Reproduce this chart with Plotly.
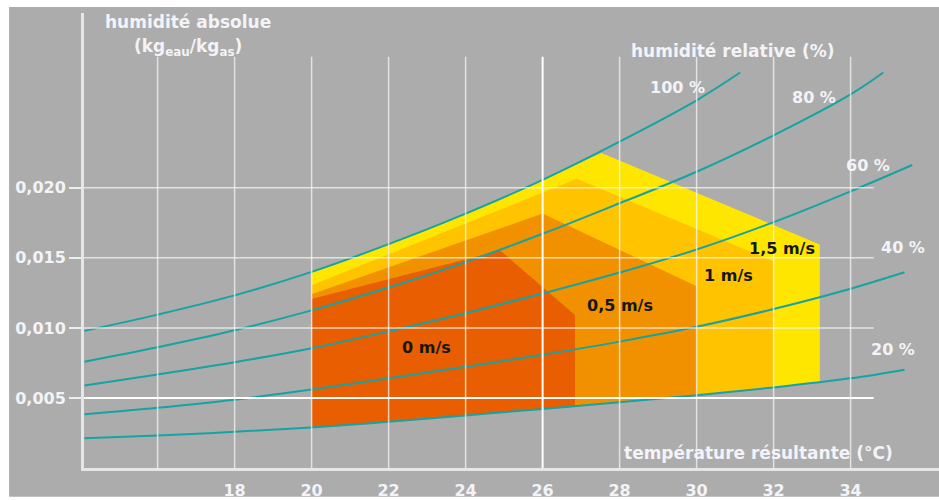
import numpy as np
import plotly.graph_objects as go

# --- relative-humidity curves: temperature (°C) vs absolute humidity (kg/kg) ---
rh100_t = [14.1, 16, 18, 20, 22, 24, 26, 28, 30, 31.13]
rh100_w = [0.00979, 0.01095, 0.01232, 0.01400, 0.01598, 0.01816, 0.02057, 0.02330, 0.02625, 0.02823]

rh80_t = [14.1, 16, 18, 20, 22, 24, 26, 28, 30, 32, 34, 34.85]
rh80_w = [0.00759, 0.00862, 0.00983, 0.01125, 0.01288, 0.01470, 0.01672, 0.01890, 0.02115, 0.02375, 0.02667, 0.02823]

rh60_t = [14.1, 16, 18, 20, 22, 24, 26, 28, 30, 32, 34, 35.6]
rh60_w = [0.00589, 0.00668, 0.00755, 0.00855, 0.00975, 0.01105, 0.01245, 0.01395, 0.01560, 0.01755, 0.01975, 0.02163]

rh40_t = [14.1, 16, 18, 20, 22, 24, 26, 28, 30, 32, 34, 35.4]
rh40_w = [0.00383, 0.00430, 0.00488, 0.00560, 0.00640, 0.00722, 0.00808, 0.00902, 0.01008, 0.01135, 0.01280, 0.01397]

rh20_t = [14.1, 16, 18, 20, 22, 24, 26, 28, 30, 32, 34, 35.4]
rh20_w = [0.00213, 0.00232, 0.00258, 0.00290, 0.00330, 0.00375, 0.00422, 0.00470, 0.00520, 0.00575, 0.00640, 0.00702]

rh_labels = ["100 %", "80 %", "60 %", "40 %", "20 %"]
rh_label_t = [29.5, 33.06, 34.45, 35.37, 35.1]
rh_label_w = [0.02716, 0.02645, 0.02156, 0.01574, 0.00844]

# --- comfort zones per air speed: upper outline (left -> peak -> right) ---
zone_names = ["1,5 m/s", "1 m/s", "0,5 m/s", "0 m/s"]
zone15_t = [20, 22, 24, 26, 27.53, 33.2]
zone15_w = [0.01400, 0.01598, 0.01816, 0.02057, 0.02248, 0.01596]
zone10_t = [20, 26.89, 32]
zone10_w = [0.01305, 0.02064, 0.01475]
zone05_t = [20, 26.0, 30]
zone05_w = [0.01241, 0.01816, 0.01298]
zone00_t = [20, 24.9, 26.84]
zone00_w = [0.01206, 0.01553, 0.01092]
zone_colors = ["#FFE600", "#FFC300", "#F29100", "#E85E00"]
zone_label_t = [32.22, 30.82, 28.0, 22.98]
zone_label_w = [0.01567, 0.01376, 0.01163, 0.00858]

# --- axes ---
grid_t = [16, 18, 20, 22, 24, 26, 28, 30, 32, 34]
xtick_t = [18, 20, 22, 24, 26, 28, 30, 32, 34]
ytick_w = [0.005, 0.010, 0.015, 0.020]
ytick_text = ["0,005", "0,010", "0,015", "0,020"]

X_RANGE = [14.088, 36.296]
Y_RANGE = [0.0, 0.03248]
GRID_TOP = 0.02936
GRID_RIGHT = 34.6

FONT = "DejaVu Sans"
LIGHT = "#F3F3F8"
TEAL = "#17A3A3"
GRAY = "#ACACAC"

fig = go.Figure()


def zone_polygon(top_t, top_w):
    """Close a zone outline along the 20 % curve back to 20 °C."""
    bottom_t = [t for t in rh20_t if top_t[0] < t < top_t[-1]]
    bottom_t = [top_t[-1]] + bottom_t[::-1] + [top_t[0]]
    bottom_w = list(np.interp(bottom_t, rh20_t, rh20_w))
    return list(top_t) + bottom_t, list(top_w) + bottom_w


for (tt, ww), color in zip(
    [(zone15_t, zone15_w), (zone10_t, zone10_w), (zone05_t, zone05_w), (zone00_t, zone00_w)],
    zone_colors,
):
    px, py = zone_polygon(tt, ww)
    fig.add_trace(go.Scatter(
        x=px, y=py, mode="lines", fill="toself", fillcolor=color,
        line=dict(width=0, color=color), hoverinfo="skip", showlegend=False,
    ))

for tt, ww in [(rh100_t, rh100_w), (rh80_t, rh80_w), (rh60_t, rh60_w),
               (rh40_t, rh40_w), (rh20_t, rh20_w)]:
    fig.add_trace(go.Scatter(
        x=tt, y=ww, mode="lines", line=dict(color=TEAL, width=2, shape="spline", smoothing=1.0),
        hoverinfo="skip", showlegend=False,
    ))

shapes = [
    # grey panel behind the whole chart
    dict(type="rect", xref="paper", yref="paper", x0=-0.0876, x1=1.0, y0=-0.0633, y1=1.0131,
         fillcolor=GRAY, line=dict(width=0), layer="below"),
]
for t in grid_t:
    strong = t == 26
    shapes.append(dict(
        type="line", xref="x", yref="y", x0=t, x1=t, y0=0, y1=GRID_TOP, layer="above",
        line=dict(color="#FFFFFF" if strong else "rgba(245,245,245,0.75)", width=2 if strong else 1.5),
    ))
for w in ytick_w:
    strong = w == 0.005
    shapes.append(dict(
        type="line", xref="x", yref="y", x0=X_RANGE[0], x1=GRID_RIGHT, y0=w, y1=w, layer="above",
        line=dict(color="#FFFFFF" if strong else "rgba(245,245,245,0.75)", width=2 if strong else 1.5),
    ))

annotations = []
for txt, t, w in zip(rh_labels, rh_label_t, rh_label_w):
    annotations.append(dict(x=t, y=w, text=txt, showarrow=False,
                            font=dict(family=FONT, size=16, color=LIGHT, weight="bold")))
for txt, t, w in zip(zone_names, zone_label_t, zone_label_w):
    annotations.append(dict(x=t, y=w, text=txt, showarrow=False,
                            font=dict(family=FONT, size=16, color="#161616", weight="bold")))

annotations += [
    dict(x=16.79, y=0.03184, text="humidité absolue", showarrow=False,
         font=dict(family=FONT, size=17, color=LIGHT, weight="bold")),
    dict(x=16.79, y=0.03000, text="(kg<sub>eau</sub>/kg<sub>as</sub>)", showarrow=False,
         font=dict(family=FONT, size=17, color=LIGHT, weight="bold")),
    dict(x=30.95, y=0.02979, text="humidité relative (%)", showarrow=False,
         font=dict(family=FONT, size=17, color=LIGHT, weight="bold")),
    dict(x=31.6, y=0.00106, text="température résultante (°C)", showarrow=False,
         font=dict(family=FONT, size=17, color=LIGHT, weight="bold")),
]

fig.update_layout(
    width=939, height=500,
    margin=dict(l=84, r=0, t=13, b=29, pad=0),
    paper_bgcolor="#FFFFFF", plot_bgcolor=GRAY,
    shapes=shapes, annotations=annotations, showlegend=False,
    xaxis=dict(
        range=X_RANGE, showgrid=False, zeroline=False,
        showline=True, linecolor="#E6E6E6", linewidth=3,
        tickvals=xtick_t, ticktext=[str(t) for t in xtick_t],
        ticks="outside", ticklen=6, tickcolor="rgba(0,0,0,0)",
        tickfont=dict(family=FONT, size=16, color=LIGHT, weight="bold"),
    ),
    yaxis=dict(
        range=Y_RANGE, showgrid=False, zeroline=False,
        showline=True, linecolor="#E6E6E6", linewidth=3,
        tickvals=ytick_w, ticktext=ytick_text,
        ticks="outside", ticklen=12, tickwidth=1.5, tickcolor="#EEEEEE",
        tickfont=dict(family=FONT, size=16, color=LIGHT, weight="bold"),
    ),
)

fig.write_html("out.html")
